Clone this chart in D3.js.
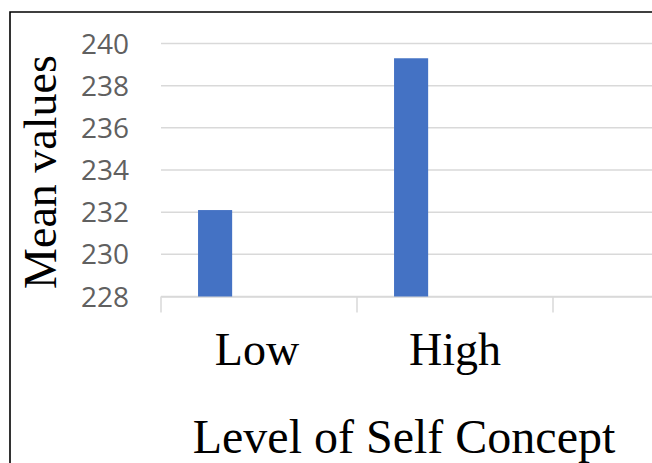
<!DOCTYPE html>
<html>
<head>
<meta charset="utf-8">
<script src="https://cdn.jsdelivr.net/npm/d3@7"></script>
<style>
  html, body { margin: 0; padding: 0; background: #fff; }
  svg { display: block; }
</style>
</head>
<body>
<svg id="chart" width="652" height="463"></svg>
<script>
// Mean score by level of self concept
const categories = ["Low", "High", ""];
const meanValues = [232.1, 239.3, null];
const yTicks = [228, 230, 232, 234, 236, 238, 240];

(function () {
  const svg = d3.select("#chart");
  const W = 652, H = 463;

  // plot area
  const plotLeft = 161, plotTop = 43.5, plotBottom = 296.5;
  const bandW = 196;

  // chart frame (continues past the page edge on the right and bottom)
  svg.append("path")
    .attr("d", `M10,${H + 5} L10,12 L${W + 5},12`)
    .attr("fill", "none")
    .attr("stroke", "#000")
    .attr("stroke-width", 1.6);

  const x = d3.scaleBand()
    .domain(categories)
    .range([plotLeft, plotLeft + bandW * categories.length])
    .padding(0);

  const y = d3.scaleLinear()
    .domain([228, 240])
    .range([plotBottom, plotTop]);

  // horizontal gridlines
  svg.append("g")
    .selectAll("line")
    .data(yTicks)
    .join("line")
    .attr("x1", plotLeft)
    .attr("x2", W)
    .attr("y1", d => y(d))
    .attr("y2", d => y(d))
    .attr("stroke", "#d9d9d9")
    .attr("stroke-width", 1.5);

  // y tick labels
  svg.append("g")
    .selectAll("text")
    .data(yTicks)
    .join("text")
    .attr("x", 129)
    .attr("y", d => y(d))
    .attr("dy", "0.36em")
    .attr("text-anchor", "end")
    .attr("font-family", "'Open Sans', sans-serif")
    .attr("font-size", 28)
    .attr("fill", "#606060")
    .text(d => d);

  // category axis line
  const xAxis = d3.axisBottom(x).tickSize(0).tickFormat("");
  const gx = svg.append("g").attr("transform", `translate(0,${y(228)})`).call(xAxis);
  gx.select(".domain").attr("stroke", "#d9d9d9").attr("stroke-width", 1.5);
  gx.selectAll(".tick").remove();

  // tick marks between category bands
  svg.append("g")
    .selectAll("line")
    .data(categories)
    .join("line")
    .attr("x1", d => x(d))
    .attr("x2", d => x(d))
    .attr("y1", y(228))
    .attr("y2", y(228) + 16)
    .attr("stroke", "#d9d9d9")
    .attr("stroke-width", 1.5);

  // bars sit in the left part of each category band
  const barOffset = 0.189, barFrac = 0.174;
  svg.append("g")
    .selectAll("rect")
    .data(categories.map((c, i) => ({ c, v: meanValues[i] })).filter(d => d.v != null))
    .join("rect")
    .attr("x", d => x(d.c) + x.bandwidth() * barOffset)
    .attr("width", x.bandwidth() * barFrac)
    .attr("y", d => y(d.v))
    .attr("height", d => y(228) - y(d.v))
    .attr("fill", "#4472C4");

  // category labels
  svg.append("g")
    .selectAll("text")
    .data(categories.filter(c => c))
    .join("text")
    .attr("x", d => x(d) + x.bandwidth() / 2 - (d === "Low" ? 2 : 0))
    .attr("y", 365)
    .attr("text-anchor", "middle")
    .attr("font-family", "'Liberation Serif', 'Times New Roman', serif")
    .attr("font-size", 46)
    .attr("fill", "#000")
    .text(d => d);

  // axis titles
  svg.append("text")
    .attr("x", 404)
    .attr("y", 453)
    .attr("text-anchor", "middle")
    .attr("font-family", "'Liberation Serif', 'Times New Roman', serif")
    .attr("font-size", 48)
    .attr("fill", "#000")
    .text("Level of Self Concept");

  svg.append("text")
    .attr("transform", "translate(56,172) rotate(-90)")
    .attr("text-anchor", "middle")
    .attr("font-family", "'Liberation Serif', 'Times New Roman', serif")
    .attr("font-size", 46)
    .attr("fill", "#000")
    .text("Mean values");
})();
</script>
</body>
</html>
